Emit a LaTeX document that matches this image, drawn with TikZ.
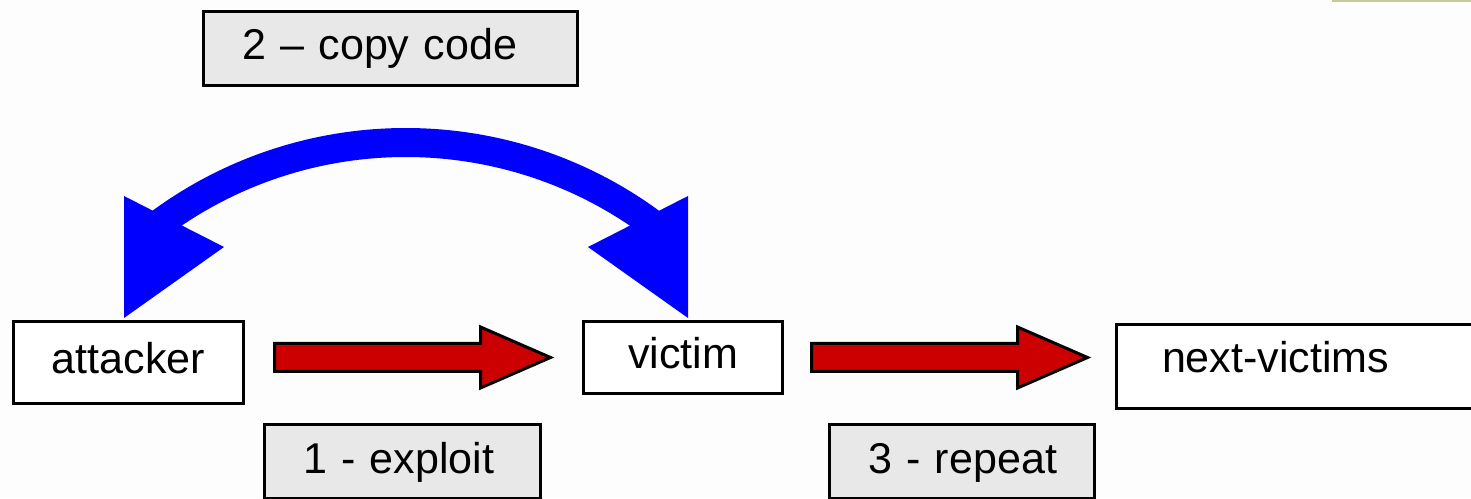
\documentclass[tikz,border=0pt]{standalone}
\usepackage{fontspec}
\setmainfont{Liberation Sans}
\usepackage{tikz}
\usetikzlibrary{calc}
\definecolor{WBlue}{HTML}{0000FF}
\definecolor{WRed}{HTML}{CC0000}
\definecolor{WBox}{HTML}{E8E8E8}
\definecolor{WInk}{HTML}{000000}
\definecolor{WStrip}{HTML}{C9C99A}
\definecolor{WPaper}{HTML}{FDFDFD}

\begin{document}
\begin{tikzpicture}[
  every node/.style={font=\fontsize{24.5}{28}\selectfont, text=WInk, inner sep=0pt},
  hostbox/.style={draw=WInk, line width=0.06cm, fill=white, text height=0.6cm, text depth=0.14cm},
  stepbox/.style={draw=WInk, line width=0.06cm, fill=WBox, align=left, inner xsep=0.77cm,
                  minimum height=1.48cm, text height=0.6cm, text depth=0.14cm},
  redarrow/.style={draw=WInk, line width=0.06cm, fill=WRed}]
  \fill[WPaper] (0,0) rectangle (29.42,9.96);
  \clip (0,0) rectangle (29.42,9.96);
  \fill[WStrip] (26.64,9.92) rectangle (29.42,9.96);

  \node[hostbox, minimum width=4.6cm,  minimum height=1.64cm] (attacker) at (2.57,2.71) {attacker};
  \node[hostbox, minimum width=3.98cm, minimum height=1.44cm] (victim)   at (13.66,2.81) {victim};
  \node[hostbox, anchor=west, minimum width=8cm, minimum height=1.68cm, text width=6.18cm,
        align=left, inner xsep=0.91cm, text depth=0.34cm] (next) at (22.30,2.63) {next-victims};

  \node[stepbox, minimum width=7.48cm, text width=5.94cm] (copy)    at (7.81,8.99)  {\mbox{2 -- copy code}};
  \node[stepbox, minimum width=5.52cm, text width=3.98cm] (exploit) at (8.05,0.73)  {\mbox{1 - exploit}};
  \node[stepbox, minimum width=5.30cm, text width=3.76cm] (repeat)  at (19.24,0.73) {\mbox{3 - repeat}};

  % red block arrows
  \draw[redarrow] ($(victim.west -| attacker.east)+(0.59,0)$) -- ++(0,0.28) -- ++(4.12,0) -- ++(0,0.33)
        -- ++(1.4,-0.61) -- ++(-1.4,-0.61) -- ++(0,0.33) -- ++(-4.12,0) -- cycle;
  \draw[redarrow] ($(victim.east)+(0.55,0)$) -- ++(0,0.28) -- ++(4.12,0) -- ++(0,0.33)
        -- ++(1.4,-0.61) -- ++(-1.4,-0.61) -- ++(0,0.33) -- ++(-4.12,0) -- cycle;

  % blue curved arrow
  \coordinate (hub) at ($(attacker.north)!0.5!(victim.north)+(0,-4.74)$);
  \fill[WBlue] ([shift={(hub)}]50:8.58) arc[start angle=50, end angle=130, radius=8.58]
        -- ([shift={(hub)}]130:8.0) arc[start angle=130, end angle=50, radius=8.0] -- cycle;
  \fill[WBlue] ($(attacker.north)+(-0.09,0.04)$) -- ++(0,2.44) -- ++(2.0,-1.02) -- cycle;
  \fill[WBlue] ($(victim.north)+(0.10,0.04)$) -- ++(0,2.44) -- ++(-2.0,-1.02) -- cycle;
\end{tikzpicture}
\end{document}
